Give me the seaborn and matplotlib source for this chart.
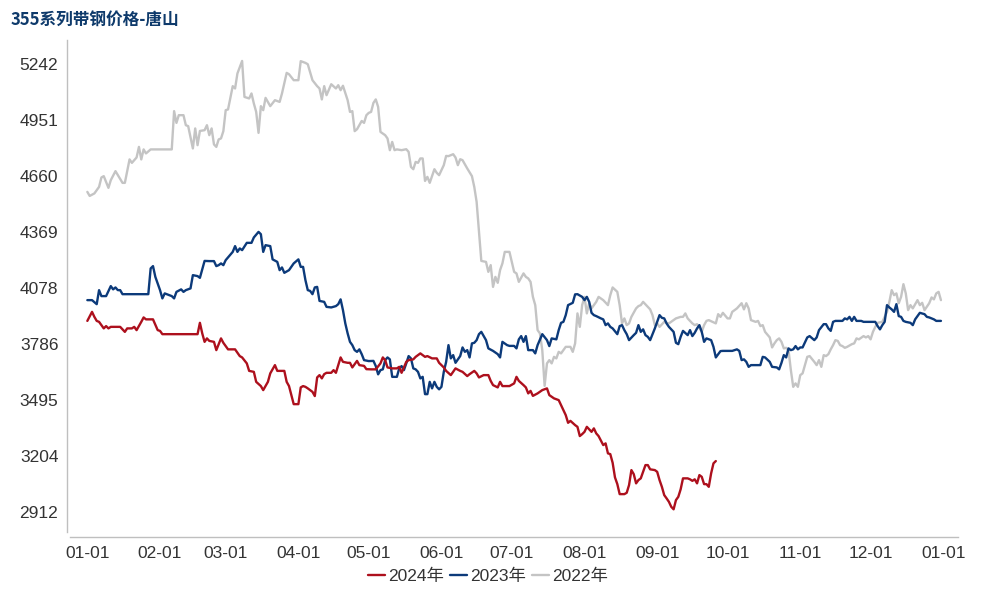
import matplotlib
matplotlib.use("Agg")

import matplotlib.pyplot as plt
import matplotlib.dates as mdates
import seaborn as sns
import pandas as pd

# --- Data ---
TITLE = "355系列带钢价格-唐山"
Y_TICKS = [2912, 3204, 3495, 3786, 4078, 4369, 4660, 4951, 5242]
SERIES_ORDER = ["2024年", "2023年", "2022年"]

# (day of year, price); day 0 = 01-01
price_2024 = [
    (0, 3908), (2, 3955), (3, 3929), (4, 3908), (5, 3903), (7, 3869), (8, 3881), (9, 3869),
    (10, 3877), (14, 3877), (16, 3851), (17, 3869), (19, 3869), (20, 3877), (21, 3860), (23, 3903),
    (24, 3926), (25, 3916), (28, 3916), (30, 3860), (31, 3856), (32, 3839), (47, 3839), (48, 3898),
    (49, 3843), (50, 3799), (51, 3817), (52, 3804), (54, 3799), (55, 3756), (57, 3817), (58, 3794),
    (60, 3760), (63, 3760), (64, 3742), (65, 3725), (66, 3718), (68, 3687), (69, 3648), (71, 3643),
    (72, 3591), (74, 3569), (75, 3548), (77, 3591), (78, 3635), (80, 3678), (81, 3648), (84, 3648),
    (85, 3591), (86, 3569), (87, 3522), (88, 3475), (90, 3475), (91, 3562), (92, 3569), (93, 3565),
    (94, 3557), (96, 3539), (97, 3517), (98, 3614), (99, 3626), (100, 3609), (101, 3631), (102, 3638),
    (104, 3638), (105, 3652), (106, 3638), (108, 3718), (109, 3695), (111, 3690), (112, 3690), (113, 3666),
    (115, 3700), (116, 3678), (118, 3674), (119, 3657), (121, 3656), (123, 3656), (125, 3687), (126, 3718),
    (127, 3704), (128, 3666), (130, 3661), (132, 3661), (133, 3669), (134, 3638), (136, 3695), (137, 3704),
    (139, 3708), (140, 3721), (142, 3739), (144, 3721), (145, 3725), (147, 3713), (149, 3713), (150, 3690),
    (152, 3666), (153, 3648), (155, 3626), (157, 3661), (159, 3648), (160, 3643), (162, 3621), (163, 3631),
    (165, 3648), (166, 3635), (167, 3614), (169, 3626), (171, 3626), (172, 3596), (173, 3574), (175, 3562),
    (176, 3591), (177, 3569), (180, 3569), (182, 3583), (183, 3617), (184, 3596), (186, 3574), (187, 3562),
    (188, 3531), (189, 3544), (190, 3518), (192, 3531), (194, 3548), (196, 3557), (197, 3522), (199, 3505),
    (201, 3496), (202, 3470), (204, 3418), (205, 3378), (206, 3388), (208, 3366), (209, 3357), (210, 3309),
    (211, 3319), (212, 3331), (213, 3357), (215, 3331), (216, 3349), (217, 3323), (218, 3309), (220, 3262),
    (221, 3271), (222, 3219), (223, 3215), (224, 3170), (225, 3094), (226, 3059), (227, 3007), (229, 3007),
    (230, 3014), (231, 3054), (232, 3132), (233, 3111), (234, 3063), (235, 3080), (236, 3089), (238, 3158),
    (239, 3158), (240, 3136), (242, 3132), (243, 3123), (244, 3080), (245, 3045), (246, 3002), (247, 2985),
    (248, 2967), (249, 2941), (250, 2928), (251, 2976), (252, 2993), (253, 3032), (254, 3089), (256, 3089),
    (257, 3084), (258, 3076), (259, 3084), (260, 3063), (261, 3106), (262, 3097), (263, 3059), (264, 3059),
    (265, 3045), (266, 3115), (267, 3167), (268, 3179),
]

price_2023 = [
    (0, 4016), (2, 4016), (4, 3995), (5, 4068), (6, 4037), (8, 4037), (10, 4089), (11, 4072),
    (12, 4082), (13, 4068), (14, 4068), (15, 4047), (26, 4047), (27, 4181), (28, 4193), (29, 4137),
    (31, 4068), (32, 4025), (33, 4051), (35, 4042), (36, 4037), (37, 4025), (38, 4059), (40, 4072),
    (41, 4059), (42, 4068), (44, 4077), (45, 4146), (47, 4141), (48, 4132), (50, 4220), (52, 4219),
    (54, 4219), (55, 4193), (56, 4198), (57, 4207), (58, 4198), (59, 4224), (62, 4267), (63, 4297),
    (64, 4267), (65, 4285), (66, 4276), (68, 4314), (70, 4314), (71, 4342), (73, 4371), (74, 4359),
    (75, 4267), (76, 4302), (78, 4297), (79, 4228), (81, 4215), (82, 4172), (83, 4186), (84, 4158),
    (86, 4172), (88, 4207), (90, 4228), (91, 4189), (92, 4189), (93, 4120), (94, 4068), (95, 4064),
    (96, 4047), (97, 4082), (98, 4085), (99, 4012), (101, 4007), (102, 3981), (104, 3978), (106, 3985),
    (107, 3995), (108, 4020), (109, 3964), (110, 3895), (111, 3843), (112, 3799), (113, 3782), (114, 3756),
    (115, 3747), (116, 3760), (117, 3735), (118, 3704), (120, 3699), (122, 3700), (123, 3673), (124, 3630),
    (125, 3652), (126, 3656), (127, 3704), (128, 3718), (129, 3708), (130, 3617), (132, 3617), (133, 3661),
    (134, 3673), (135, 3652), (136, 3687), (137, 3725), (138, 3713), (139, 3661), (140, 3656), (141, 3643),
    (142, 3609), (143, 3617), (144, 3527), (145, 3527), (146, 3591), (147, 3557), (148, 3591), (149, 3565),
    (150, 3552), (151, 3565), (152, 3643), (153, 3695), (154, 3782), (155, 3713), (156, 3730), (157, 3690),
    (159, 3725), (160, 3770), (161, 3747), (162, 3756), (163, 3718), (164, 3791), (165, 3794), (166, 3808),
    (167, 3839), (168, 3851), (170, 3808), (171, 3765), (173, 3752), (175, 3735), (176, 3718), (177, 3799),
    (179, 3782), (180, 3778), (182, 3778), (183, 3765), (184, 3812), (185, 3829), (186, 3799), (187, 3829),
    (188, 3756), (190, 3756), (191, 3739), (192, 3782), (194, 3839), (196, 3808), (197, 3777), (198, 3817),
    (200, 3812), (201, 3860), (202, 3898), (203, 3903), (204, 3938), (205, 3990), (207, 4002), (208, 4046),
    (209, 4047), (211, 4033), (212, 4016), (213, 4033), (214, 4007), (215, 3950), (216, 3938), (217, 3933),
    (219, 3921), (220, 3916), (221, 3886), (222, 3895), (223, 3877), (224, 3869), (226, 3839), (227, 3881),
    (228, 3886), (229, 3860), (230, 3839), (231, 3808), (233, 3834), (234, 3846), (235, 3886), (236, 3851),
    (237, 3864), (238, 3834), (239, 3825), (240, 3808), (242, 3869), (244, 3938), (245, 3924), (246, 3921),
    (247, 3895), (248, 3877), (250, 3851), (251, 3794), (252, 3787), (253, 3825), (254, 3856), (256, 3834),
    (257, 3860), (258, 3829), (259, 3846), (260, 3869), (261, 3886), (262, 3851), (263, 3799), (264, 3817),
    (266, 3808), (267, 3773), (268, 3718), (270, 3751), (271, 3752), (275, 3752), (277, 3760), (278, 3752),
    (279, 3704), (280, 3708), (281, 3695), (282, 3669), (283, 3678), (287, 3678), (288, 3721), (289, 3718),
    (291, 3695), (292, 3669), (294, 3666), (295, 3656), (296, 3690), (297, 3730), (298, 3718), (299, 3765),
    (300, 3756), (301, 3760), (302, 3777), (303, 3760), (304, 3770), (305, 3770), (307, 3822), (308, 3829),
    (310, 3808), (311, 3822), (312, 3860), (314, 3891), (315, 3891), (316, 3869), (317, 3856), (318, 3903),
    (319, 3908), (322, 3908), (323, 3921), (324, 3916), (325, 3929), (326, 3908), (327, 3929), (328, 3908),
    (330, 3908), (331, 3903), (336, 3903), (337, 3881), (338, 3864), (339, 3886), (340, 3903), (341, 3990),
    (342, 3978), (343, 3968), (344, 3955), (345, 3995), (346, 3933), (347, 3929), (348, 3908), (349, 3903),
    (351, 3898), (352, 3886), (353, 3916), (354, 3933), (355, 3950), (357, 3943), (358, 3929), (359, 3926),
    (361, 3916), (362, 3908), (364, 3908),
]

price_2022 = [
    (0, 4579), (1, 4558), (3, 4571), (5, 4605), (6, 4654), (7, 4661), (9, 4600), (10, 4640),
    (12, 4687), (15, 4626), (16, 4626), (18, 4748), (19, 4730), (21, 4758), (22, 4813), (23, 4748),
    (24, 4800), (25, 4779), (27, 4800), (36, 4800), (37, 4999), (38, 4938), (39, 4978), (41, 4978),
    (42, 4926), (43, 4921), (45, 4805), (46, 4909), (47, 4822), (48, 4896), (50, 4900), (51, 4926),
    (52, 4874), (53, 4909), (54, 4826), (55, 4813), (56, 4852), (57, 4857), (58, 4895), (59, 5004),
    (60, 5008), (62, 5129), (63, 5117), (64, 5195), (66, 5260), (67, 5073), (69, 5065), (70, 5091),
    (71, 5039), (72, 4995), (73, 4886), (74, 5025), (75, 5004), (76, 5068), (78, 5025), (80, 5056),
    (82, 5047), (83, 5091), (85, 5198), (86, 5191), (88, 5160), (90, 5160), (91, 5259), (93, 5250),
    (94, 5243), (96, 5160), (98, 5129), (99, 5117), (100, 5060), (101, 5129), (102, 5082), (104, 5139),
    (106, 5117), (107, 5134), (108, 5108), (109, 5131), (111, 5056), (112, 4995), (113, 4999), (114, 4895),
    (115, 4905), (117, 4948), (118, 4938), (119, 4978), (120, 4990), (121, 4995), (122, 5042), (123, 5060),
    (124, 5021), (125, 4891), (127, 4874), (128, 4857), (129, 4796), (130, 4839), (131, 4796), (132, 4800),
    (134, 4796), (136, 4801), (137, 4787), (138, 4709), (139, 4697), (140, 4735), (141, 4730), (142, 4753),
    (143, 4753), (144, 4636), (145, 4657), (146, 4626), (148, 4697), (149, 4678), (150, 4666), (152, 4718),
    (153, 4766), (154, 4765), (156, 4775), (157, 4758), (158, 4718), (159, 4749), (160, 4744), (162, 4701),
    (164, 4661), (165, 4605), (166, 4527), (167, 4371), (168, 4220), (170, 4215), (171, 4163), (172, 4198),
    (173, 4085), (174, 4137), (175, 4106), (176, 4172), (177, 4207), (178, 4267), (180, 4267), (182, 4163),
    (183, 4155), (184, 4111), (186, 4155), (187, 4137), (188, 4129), (189, 4111), (190, 4033), (191, 3990),
    (192, 3860), (193, 3843), (194, 3756), (195, 3570), (196, 3687), (197, 3704), (198, 3687), (199, 3721),
    (200, 3713), (201, 3747), (202, 3739), (204, 3773), (206, 3773), (207, 3747), (208, 3791), (209, 3947),
    (210, 3877), (211, 3990), (212, 4033), (213, 3947), (214, 4000), (215, 3973), (217, 4007), (218, 4033),
    (220, 4016), (222, 3990), (223, 4042), (224, 4082), (226, 4059), (227, 3990), (228, 3895), (229, 3921),
    (230, 3886), (231, 3895), (232, 3929), (234, 3973), (235, 3985), (236, 3990), (237, 4007), (239, 3981),
    (240, 3968), (241, 3938), (242, 3886), (243, 3895), (244, 3877), (246, 3903), (247, 3898), (248, 3895),
    (250, 3912), (251, 3921), (253, 3929), (254, 3929), (255, 3947), (256, 3921), (258, 3895), (259, 3886),
    (260, 3891), (262, 3851), (263, 3886), (264, 3908), (265, 3912), (268, 3895), (269, 3943), (270, 3929),
    (271, 3950), (273, 3921), (274, 3921), (275, 3955), (277, 3973), (279, 4000), (280, 3968), (281, 4000),
    (282, 3973), (283, 3912), (285, 3903), (286, 3908), (287, 3881), (288, 3886), (289, 3851), (291, 3822),
    (292, 3770), (293, 3791), (294, 3808), (295, 3817), (296, 3799), (297, 3765), (298, 3768), (299, 3756),
    (300, 3652), (301, 3565), (302, 3583), (303, 3565), (304, 3626), (305, 3635), (306, 3678), (307, 3721),
    (308, 3725), (310, 3695), (311, 3678), (312, 3704), (313, 3669), (314, 3730), (315, 3725), (316, 3735),
    (317, 3760), (318, 3782), (319, 3808), (320, 3804), (321, 3782), (322, 3777), (323, 3768), (324, 3773),
    (326, 3787), (327, 3791), (328, 3817), (329, 3812), (331, 3829), (332, 3822), (333, 3829), (334, 3812),
    (335, 3851), (336, 3877), (337, 3898), (339, 3903), (340, 3929), (341, 3955), (342, 4007), (343, 4068),
    (344, 4042), (345, 4051), (346, 4000), (347, 4033), (348, 4099), (349, 4051), (350, 3964), (351, 3990),
    (352, 3973), (354, 4016), (355, 3990), (356, 4002), (357, 3964), (359, 4000), (360, 4030), (361, 4020),
    (362, 4051), (363, 4059), (364, 4016),
]

COLORS = {"2024年": "#AD101D", "2023年": "#0C3A7A", "2022年": "#C4C4C4"}
BASE = pd.Timestamp("2023-01-01")


def to_frame(pairs, label):
    df = pd.DataFrame(pairs, columns=["day", "price"])
    df["date"] = BASE + pd.to_timedelta(df["day"], unit="D")
    df["series"] = label
    return df


df = pd.concat([
    to_frame(price_2022, "2022年"),
    to_frame(price_2023, "2023年"),
    to_frame(price_2024, "2024年"),
], ignore_index=True)

sns.set_theme(style="white")
plt.rcParams["font.family"] = ["Liberation Sans", "Noto Sans CJK SC"]

fig = plt.figure(figsize=(10, 6), dpi=100)
ax = fig.add_axes([0.0667, 0.105, 0.8916, 0.828])

# draw 2022 first so newer years sit on top
for label in ["2022年", "2023年", "2024年"]:
    sns.lineplot(data=df[df["series"] == label], x="date", y="price",
                 color=COLORS[label], linewidth=1.7, estimator=None, sort=False,
                 label=label, ax=ax)

y_min, y_max = 2784, 5368
x_min = BASE - pd.Timedelta(days=8.8)
x_max = BASE + pd.Timedelta(days=371.4)
ax.set_ylim(y_min, y_max)
ax.set_xlim(x_min, x_max)

ax.set_yticks(Y_TICKS)
ax.set_yticklabels([str(v) for v in Y_TICKS])
ax.set_xticks(pd.date_range("2023-01-01", "2024-01-01", freq="MS"))
ax.xaxis.set_major_formatter(mdates.DateFormatter("%m-%d"))
ax.set_xlabel("")
ax.set_ylabel("")

for side in ["top", "right"]:
    ax.spines[side].set_visible(False)
for side in ["left", "bottom"]:
    ax.spines[side].set_color("#BFBFBF")
    ax.spines[side].set_linewidth(1)
ax.spines["left"].set_bounds(y_min + 26, y_max)
ax.spines["bottom"].set_bounds(mdates.date2num(BASE - pd.Timedelta(days=7.4)), mdates.date2num(x_max))

ax.tick_params(axis="both", direction="out", length=3.5, width=1, color="#BFBFBF",
               labelsize=12.5, labelcolor="#333333")
ax.tick_params(axis="y", pad=2.5)
ax.tick_params(axis="x", pad=3)

fig.text(0.011, 1 - 20 / 600, TITLE, fontsize=12, fontweight="bold", color="#0E3A6B",
         va="center", ha="left", family=["Noto Sans CJK SC", "DejaVu Sans"])

handles, labels = ax.get_legend_handles_labels()
lookup = dict(zip(labels, handles))
ax.get_legend().remove()
fig.legend([lookup[s] for s in SERIES_ORDER], SERIES_ORDER, loc="center",
           bbox_to_anchor=(0.488, 1 - 576 / 600), ncol=3, frameon=False,
           fontsize=12.5, handlelength=1.0, handletextpad=0.2, columnspacing=0.3,
           labelcolor="#333333")

fig.savefig("out.png", dpi=100)
plt.close(fig)
